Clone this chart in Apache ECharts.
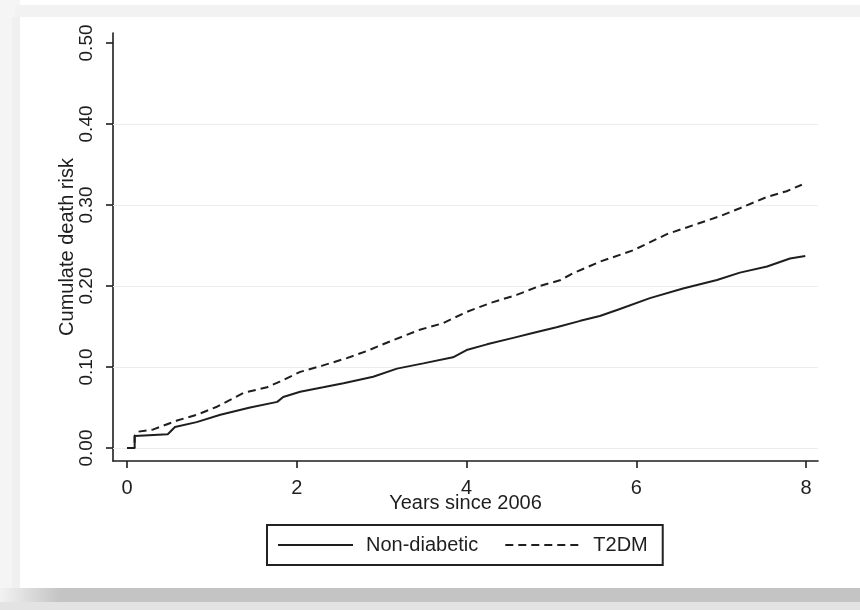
<!DOCTYPE html>
<html>
<head>
<meta charset="utf-8">
<script src="https://cdn.jsdelivr.net/npm/echarts/dist/echarts.min.js"></script>
<style>
  html, body { margin: 0; padding: 0; background: #ffffff; }
  #chart { width: 860px; height: 610px; }
</style>
</head>
<body>
<div id="chart"></div>
<script>
// Cumulative death risk by years of follow-up
const yearsNonDiabetic = [0, 0.09, 0.09, 0.48, 0.565, 0.82, 1.1, 1.45, 1.77, 1.84, 2.04, 2.31, 2.55, 2.9, 3.18, 3.49, 3.84, 4.0, 4.24, 4.55, 4.78, 5.06, 5.34, 5.57, 5.79, 6.16, 6.55, 6.95, 7.22, 7.54, 7.81, 7.99];
const riskNonDiabetic  = [0, 0, 0.015, 0.017, 0.026, 0.032, 0.041, 0.050, 0.057, 0.063, 0.0695, 0.075, 0.080, 0.088, 0.098, 0.1045, 0.112, 0.121, 0.128, 0.136, 0.142, 0.149, 0.157, 0.163, 0.171, 0.185, 0.197, 0.2075, 0.2165, 0.224, 0.234, 0.237];

const yearsT2DM = [0, 0.09, 0.09, 0.12, 0.31, 0.59, 0.82, 1.06, 1.37, 1.65, 1.8, 2.04, 2.31, 2.59, 2.83, 3.13, 3.45, 3.72, 4.0, 4.28, 4.59, 4.86, 5.1, 5.26, 5.57, 5.96, 6.36, 6.67, 6.98, 7.22, 7.54, 7.77, 7.95];
const riskT2DM  = [0, 0, 0.015, 0.020, 0.023, 0.034, 0.041, 0.051, 0.068, 0.075, 0.082, 0.094, 0.102, 0.111, 0.120, 0.133, 0.146, 0.154, 0.168, 0.179, 0.189, 0.200, 0.207, 0.216, 0.230, 0.244, 0.264, 0.275, 0.286, 0.296, 0.310, 0.317, 0.325];

const xTicks = [0, 2, 4, 6, 8];
const yTicks = [0, 0.1, 0.2, 0.3, 0.4, 0.5];
const gridValues = [0, 0.1, 0.2, 0.3, 0.4];

const seriesNames = ['Non-diabetic', 'T2DM'];

const pairs = (xs, ys) => xs.map((x, i) => [x, ys[i]]);

const FONT = 'Liberation Sans, Arial, sans-serif';
const INK = '#1e1e1e';

const chart = echarts.init(document.getElementById('chart'), null, { renderer: 'canvas' });

chart.setOption({
  animation: false,
  backgroundColor: '#ffffff',
  graphic: [
    // soft frame around the figure
    { type: 'rect', shape: { x: 0, y: 0, width: 20, height: 590 }, style: { fill: '#f5f5f5' }, silent: true, z: -10 },
    { type: 'rect', shape: { x: 12, y: 17, width: 8, height: 571 }, style: { fill: '#f0f0f0' }, silent: true, z: -10 },
    { type: 'rect', shape: { x: 15, y: 5, width: 845, height: 12 }, style: { fill: '#f2f2f2' }, silent: true, z: -10 },
    { type: 'rect', shape: { x: 0, y: 588, width: 860, height: 14 },
      style: { fill: new echarts.graphic.LinearGradient(0, 0, 1, 0, [
        { offset: 0, color: '#f2f2f2' }, { offset: 0.07, color: '#c4c4c4' }, { offset: 1, color: '#c4c4c4' }]) },
      silent: true, z: -10 },
    { type: 'rect', shape: { x: 0, y: 602, width: 860, height: 8 }, style: { fill: '#e3e3e3' }, silent: true, z: -10 }
  ],
  grid: { left: 113, top: 33, right: 42, bottom: 149, containLabel: false },
  legend: {
    data: seriesNames,
    left: 267,
    top: 525,
    orient: 'horizontal',
    itemWidth: 75,
    itemHeight: 14,
    itemGap: 26,
    padding: [10, 15, 10, 10],
    borderColor: '#222',
    borderWidth: 2,
    borderRadius: 0,
    itemStyle: { opacity: 0 },
    textStyle: { fontFamily: FONT, fontSize: 20, color: INK, padding: [0, 0, 0, 8] }
  },
  xAxis: {
    type: 'value',
    min: -0.165,
    max: 8.14,
    name: 'Years since 2006',
    nameLocation: 'middle',
    nameGap: 32,
    nameMoveOverlap: false,
    nameTextStyle: { fontFamily: FONT, fontSize: 20, color: INK },
    axisLine: { show: true, onZero: false, lineStyle: { color: INK, width: 1.6 } },
    axisTick: { show: true, customValues: xTicks, length: 7, lineStyle: { color: INK, width: 1.6 } },
    axisLabel: { customValues: xTicks, margin: 17, fontFamily: FONT, fontSize: 20, color: INK },
    splitLine: { show: false }
  },
  yAxis: {
    type: 'value',
    min: -0.016,
    max: 0.5123,
    name: 'Cumulate death risk',
    nameLocation: 'middle',
    nameRotate: 90,
    nameGap: 36,
    nameMoveOverlap: false,
    nameTextStyle: { fontFamily: FONT, fontSize: 20, color: INK },
    axisLine: { show: true, onZero: false, lineStyle: { color: INK, width: 1.6 } },
    axisTick: { show: true, customValues: yTicks, length: 7, lineStyle: { color: INK, width: 1.6 } },
    axisLabel: {
      customValues: yTicks,
      rotate: 90,
      margin: 17,
      fontFamily: FONT,
      fontSize: 19,
      color: INK,
      formatter: v => v.toFixed(2)
    },
    splitLine: { show: false }
  },
  series: [
    {
      name: seriesNames[0],
      type: 'line',
      data: pairs(yearsNonDiabetic, riskNonDiabetic),
      showSymbol: false,
      symbol: 'none',
      lineStyle: { color: INK, width: 2, type: 'solid' },
      itemStyle: { color: INK },
      z: 3,
      markLine: {
        silent: true,
        symbol: ['none', 'none'],
        label: { show: false },
        lineStyle: { color: '#e9efef', width: 1.2, type: 'solid' },
        data: gridValues.map(v => ({ yAxis: v })),
        z: 1
      }
    },
    {
      name: seriesNames[1],
      type: 'line',
      data: pairs(yearsT2DM, riskT2DM),
      showSymbol: false,
      symbol: 'none',
      lineStyle: { color: INK, width: 2, type: [8, 5] },
      itemStyle: { color: INK },
      z: 3
    }
  ]
});
</script>
</body>
</html>
